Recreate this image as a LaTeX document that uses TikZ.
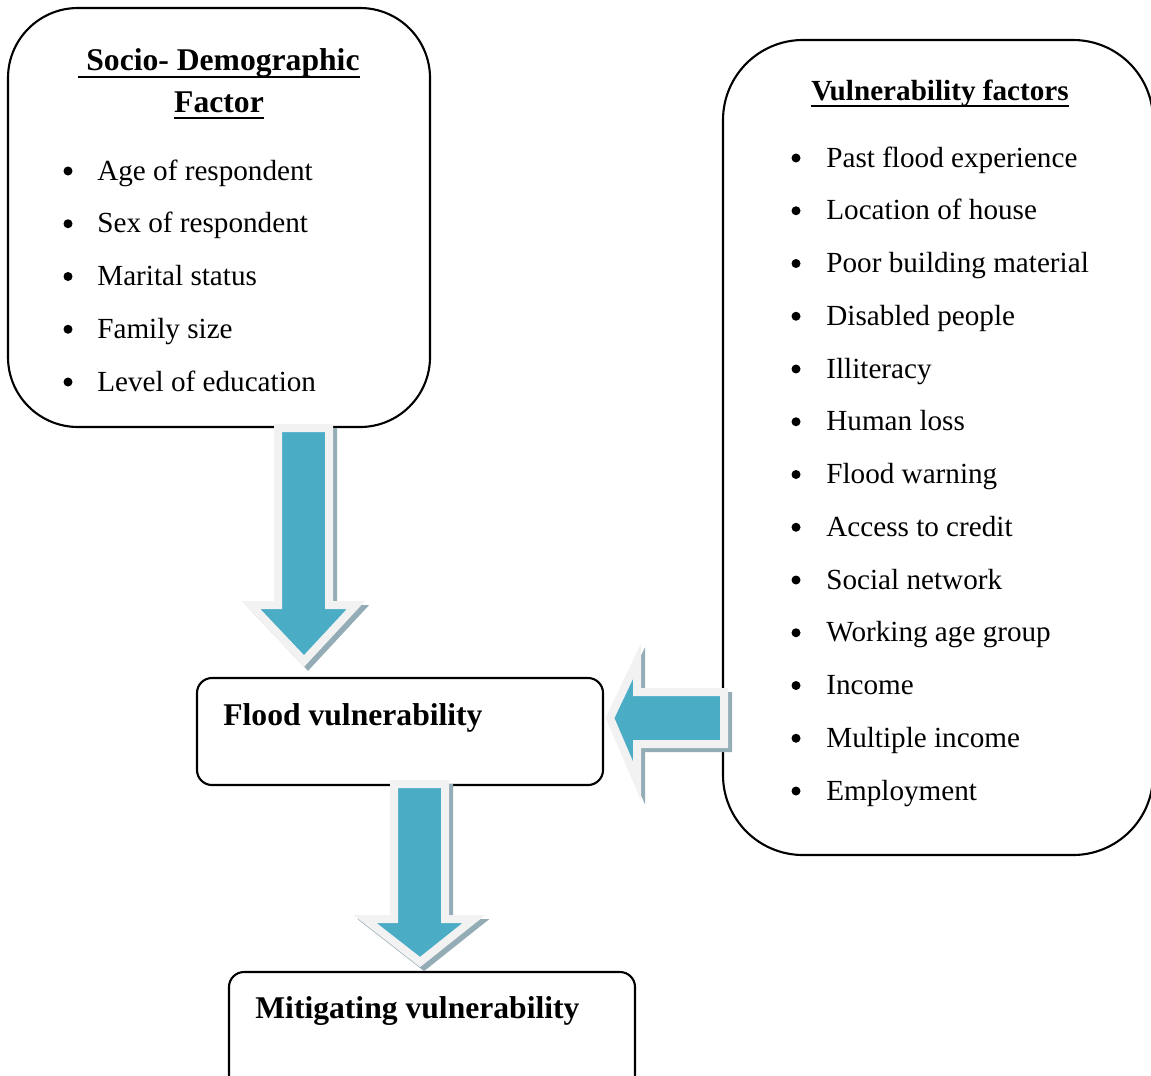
\documentclass[tikz,border=0pt]{standalone}
\usepackage{fontspec}
\setmainfont{Liberation Serif}

\definecolor{arrowblue}{HTML}{4BACC6}
\definecolor{arrowedge}{HTML}{F2F2F2}
\definecolor{arrowshade}{HTML}{93ACB5}

\tikzset{
  box/.style={draw, line width=1.2pt},
  arrowbody/.style={fill=arrowblue, draw=arrowedge, line width=0.16cm, line join=miter},
  arrowshadow/.style={fill=arrowshade, draw=arrowshade, line width=0.16cm, line join=miter, shift={(4,4)}},
  item/.style={anchor=base west, inner sep=0pt, font=\fontsize{16.6}{20}\selectfont},
  dot/.style={circle, fill, inner sep=0pt, minimum size=0.18cm},
  heading/.style={anchor=base, inner sep=0pt, font=\fontsize{18}{22}\selectfont\bfseries},
  label/.style={anchor=base west, inner sep=0pt, font=\fontsize{18}{22}\selectfont\bfseries},
  uline/.style={line width=1.7pt},
}

\begin{document}
\begin{tikzpicture}[x=0.02cm, y=-0.02cm]
    %% Background
    \useasboundingbox (0,0) rectangle (1151,1075);

    %% Boxes
    \draw[box, rounded corners=1.4cm] (8,8) rectangle (430,427);
    \draw[box, rounded corners=1.6cm] (723,40) rectangle (1153,855);
    \draw[box, rounded corners=0.3cm] (197,678) rectangle (603,785);
    \draw[box, rounded corners=0.3cm] (229,972) rectangle (635,1090);

    %% Socio-demographic factor
    \node[heading] (sociotitle) at (219,70) {\ Socio- Demographic};
    \node[heading] (sociotitleb) at (219,112) {Factor};
    \draw[uline] ([yshift=-0.14cm]sociotitle.base west) -- ([yshift=-0.14cm]sociotitle.base east);
    \draw[uline] ([yshift=-0.12cm]sociotitleb.base west) -- ([yshift=-0.12cm]sociotitleb.base east);
    \foreach \txt [count=\i] in {Age of respondent, Sex of respondent,
        Marital status, Family size, Level of education} {
        \node[dot] (sd\i) at (68,118.25+52.75*\i) {};
        \node[item] (s\i) at (97,127.25+52.75*\i) {\txt};
    }

    %% Vulnerability factors
    \node[heading, font=\fontsize{16.6}{20}\selectfont\bfseries] (vultitle) at (940,100) {Vulnerability factors};
    \draw[uline] ([yshift=-0.12cm]vultitle.base west) -- ([yshift=-0.12cm]vultitle.base east);
    \foreach \txt [count=\i] in {Past flood experience, Location of house,
        Poor building material, Disabled people, Illiteracy, Human loss,
        Flood warning, Access to credit, Social network, Working age group,
        Income, Multiple income, Employment} {
        \node[dot] (vd\i) at (796,105.25+52.75*\i) {};
        \node[item] (v\i) at (826,114.25+52.75*\i) {\txt};
    }

    %% Outcomes
    \node[label] (flood) at (223,725) {Flood vulnerability};
    \node[label] (mitigate) at (255,1018) {Mitigating vulnerability};

    %% Block arrows
    \draw[arrowshadow] (278,428) -- (329,428) -- (329,605) -- (356,605) -- (304,661) -- (251,605) -- (278,605) -- cycle;
    \draw[arrowbody] (278,428) -- (329,428) -- (329,605) -- (356,605) -- (304,661) -- (251,605) -- (278,605) -- cycle;

    \draw[arrowshadow] (724,692) -- (724,744) -- (637,744) -- (637,781) -- (610,718) -- (637,661) -- (637,692) -- cycle;
    \draw[arrowbody] (724,692) -- (724,744) -- (637,744) -- (637,781) -- (610,718) -- (637,661) -- (637,692) -- cycle;

    \draw[arrowshadow] (394,784) -- (445,784) -- (445,919) -- (474,919) -- (420,962) -- (365,919) -- (394,919) -- cycle;
    \draw[arrowbody] (394,784) -- (445,784) -- (445,919) -- (474,919) -- (420,962) -- (365,919) -- (394,919) -- cycle;

\end{tikzpicture}
\end{document}
